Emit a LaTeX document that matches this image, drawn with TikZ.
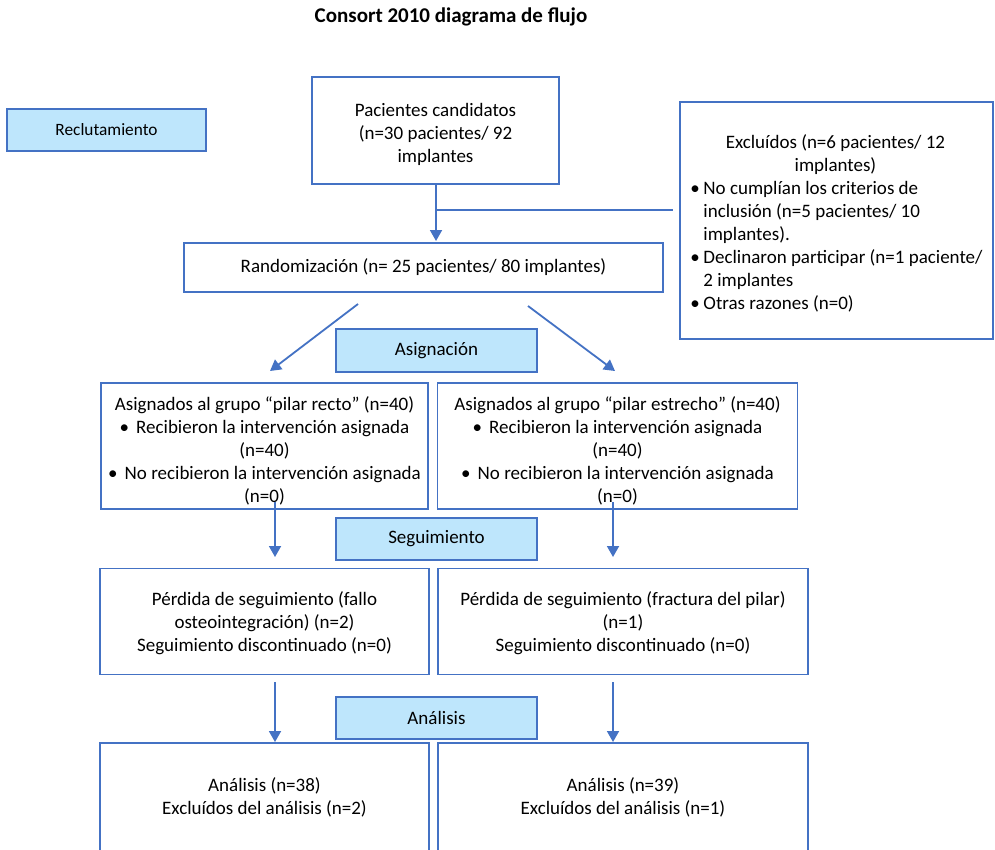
\documentclass[tikz,border=0pt]{standalone}
\usepackage{fontspec}
\setmainfont{Carlito}
\usetikzlibrary{arrows.meta}
\definecolor{bline}{RGB}{68,114,196}
\definecolor{bfill}{RGB}{190,230,252}
\begin{document}
\begin{tikzpicture}[x=1pt,y=-1pt,
  every node/.style={font=\fontsize{19}{23}\selectfont, text=black},
  box/.style={draw=bline, line width=1.8pt, fill=white, inner sep=0pt, align=center},
  lbox/.style={draw=bline, line width=1.8pt, fill=bfill, inner sep=0pt, align=center},
  ln/.style={draw=bline, line width=1.8pt},
  arr/.style={draw=bline, line width=1.8pt, -{Triangle[length=11pt,width=12pt]}}]
\useasboundingbox (0,0) rectangle (995,849);
\clip (0,0) rectangle (995,849);
\fill[white] (0,0) rectangle (995,849);

\node[font=\bfseries\fontsize{21}{25}\selectfont] (title) at (451,17) {Consort 2010 diagrama de flujo};

\node[lbox, minimum width=199, minimum height=42, font=\fontsize{17.3}{20}\selectfont] (recl) at (106.5,130) {Reclutamiento};
\node[box, minimum width=247, minimum height=107] (pac) at (435.5,130.5)
  {\rule{0pt}{21.5pt}Pacientes candidatos\\(n=30 pacientes/ 92\\implantes};
\node[box, minimum width=313, minimum height=237, align=left] (exc) at (836.5,220.5)
  {\rule{0pt}{19.5pt}\makebox[290pt][c]{Excluídos (n=6 pacientes/ 12}\\
   \makebox[290pt][c]{implantes)}\\
   \makebox[13pt][l]{\textbullet}No cumplían los criterios de\\
   \hspace*{13pt}inclusión (n=5 pacientes/ 10\\
   \hspace*{13pt}implantes).\\
   \makebox[13pt][l]{\textbullet}Declinaron participar (n=1 paciente/\\
   \hspace*{13pt}2 implantes\\
   \makebox[13pt][l]{\textbullet}Otras razones (n=0)};
\node[box, minimum width=479, minimum height=49] (rand) at (423.5,267.5)
  {Randomización (n= 25 pacientes/ 80 implantes)};

\node[lbox, minimum width=201, minimum height=43] (asig) at (436.5,350.5) {Asignación};
\node[box, minimum width=327, minimum height=126] (gl) at (264.5,446)
  {\rule{0pt}{23.5pt}Asignados al grupo “pilar recto” (n=40)\\
   \textbullet\hspace{7pt}Recibieron la intervención asignada\\
   (n=40)\\
   \textbullet\hspace{7pt}No recibieron la intervención asignada\\
   (n=0)};
\node[box, minimum width=360, minimum height=126] (gr) at (617.5,446)
  {\rule{0pt}{23.5pt}Asignados al grupo “pilar estrecho” (n=40)\\
   \textbullet\hspace{7pt}Recibieron la intervención asignada\\
   (n=40)\\
   \textbullet\hspace{7pt}No recibieron la intervención asignada\\
   (n=0)};

\node[lbox, minimum width=201, minimum height=42] (seg) at (436.5,539) {Seguimiento};
\node[box, minimum width=329, minimum height=106] (pl) at (264.5,621.5)
  {\rule{0pt}{17.5pt}Pérdida de seguimiento (fallo\\osteointegración) (n=2)\\Seguimiento discontinuado (n=0)};
\node[box, minimum width=370, minimum height=106] (pr) at (623,621.5)
  {\rule{0pt}{17.5pt}Pérdida de seguimiento (fractura del pilar)\\(n=1)\\Seguimiento discontinuado (n=0)};

\node[lbox, minimum width=201, minimum height=42] (anl) at (436.5,718) {Análisis};
\node[box, minimum width=329, minimum height=108] (al) at (264.5,797)
  {\rule{0pt}{15.5pt}Análisis (n=38)\\Excluídos del análisis (n=2)};
\node[box, minimum width=370, minimum height=108] (ar) at (623,797)
  {\rule{0pt}{15.5pt}Análisis (n=39)\\Excluídos del análisis (n=1)};

% connectors
\coordinate (ps) at (436,184);
\coordinate (rn) at (436,241);
\coordinate (j) at (436,210);
\coordinate (je) at (673,210);
\draw[arr] (ps) -- (rn);
\draw[ln] (j) -- (je);

\coordinate (dl1) at (358,304);
\coordinate (dl2) at (270,371);
\coordinate (dr1) at (528,306);
\coordinate (dr2) at (615,371);
\draw[arr] (dl1) -- (dl2);
\draw[arr] (dr1) -- (dr2);

\coordinate (v1a) at (275,502); \coordinate (v1b) at (275,557);
\coordinate (v2a) at (613,502); \coordinate (v2b) at (613,557);
\coordinate (v3a) at (275,682); \coordinate (v3b) at (275,742);
\coordinate (v4a) at (613,682); \coordinate (v4b) at (613,742);
\draw[arr] (v1a) -- (v1b);
\draw[arr] (v2a) -- (v2b);
\draw[arr] (v3a) -- (v3b);
\draw[arr] (v4a) -- (v4b);
\end{tikzpicture}
\end{document}
